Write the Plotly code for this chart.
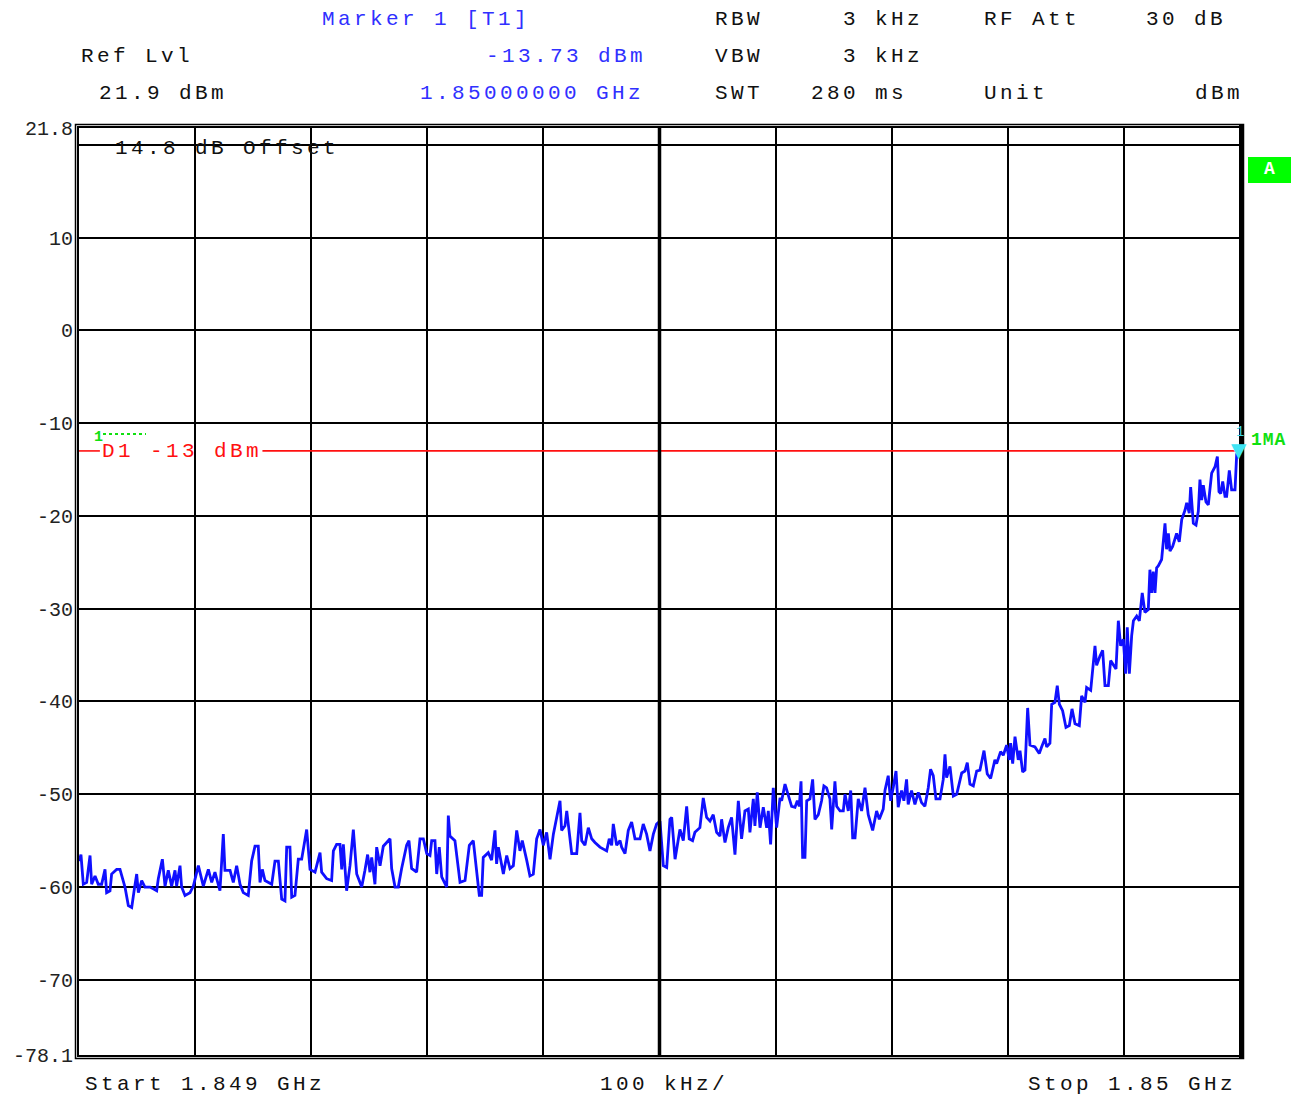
import plotly.graph_objects as go

# ---------------- data ----------------
freq_khz = [
    0, 1.7, 3.7, 6.6, 9.5, 10.9, 13.8, 16.6, 19.5, 22.4,
    23.8, 26.7, 28.1, 32.4, 35.3, 39.6, 42.5, 45.4, 47.7, 49.7,
    51.1, 54.0, 56.8, 61.2, 64.0, 66.9, 68.3, 71.8, 74.1, 76.9,
    79.8, 82.7, 84.1, 87.0, 88.4, 91.3, 95.6, 98.5, 102.8, 107.1,
    111.4, 114.3, 117.1, 121.4, 124.3, 125.7, 130.1, 132.9, 135.8, 138.7,
    141.5, 145.8, 148.7, 151.6, 154.4, 155.9, 157.9, 160.2, 166.0, 168.8,
    171.7, 174.6, 177.4, 178.9, 181.7, 183.2, 186.0, 187.5, 188.9, 191.8,
    196.1, 199.0, 203.3, 207.6, 209.0, 213.3, 217.6, 219.1, 221.9, 224.8,
    226.3, 227.7, 230.5, 233.4, 236.3, 239.2, 243.5, 246.3, 248.6, 250.6,
    252.1, 254.9, 256.4, 259.3, 262.1, 265.0, 267.9, 269.3, 272.2, 275.0,
    277.9, 282.2, 284.2, 286.5, 290.8, 293.7, 296.6, 299.5, 302.3, 303.8,
    306.6, 308.1, 310.3, 312.4, 316.7, 318.1, 319.5, 323.8, 328.2, 332.5,
    336.2, 339.6, 342.5, 344.8, 346.8, 348.2, 352.5, 355.4, 358.3, 359.7,
    361.2, 364.1, 365.5, 368.4, 371.2, 374.1, 377.0, 379.8, 381.8, 385.6,
    388.4, 391.3, 394.2, 397.1, 399.9, 402.8, 405.7, 408.6, 411.4, 414.3,
    415.7, 418.6, 420.1, 424.4, 428.7, 431.5, 433.0, 435.8, 438.7, 441.6,
    444.4, 448.7, 454.5, 456.7, 458.8, 460.2, 463.1, 466.0, 467.4, 470.3,
    473.1, 476.0, 478.9, 483.2, 486.0, 488.9, 491.8, 494.7, 497.5, 500.4,
    503.3, 506.2, 509.0, 510.5, 513.4, 517.6, 520.5, 523.4, 525.6, 528.5,
    530.5, 534.8, 537.7, 540.6, 543.5, 546.3, 549.2, 552.1, 553.5, 556.4,
    559.2, 562.1, 565.0, 567.9, 570.7, 573.6, 576.5, 577.9, 580.8, 582.2,
    584.2, 586.6, 589.4, 592.3, 593.7, 595.7, 598.0, 600.9, 603.8, 605.2,
    608.1, 610.9, 613.8, 616.7, 618.7, 620.4, 621.9, 623.3, 625.3, 626.8,
    629.6, 631.9, 633.9, 636.8, 639.6, 641.6, 643.9, 646.8, 648.3, 651.1,
    652.6, 655.5, 658.3, 659.8, 662.6, 664.7, 666.4, 668.4, 671.2, 674.1,
    677.0, 679.8, 683.6, 687.0, 689.3, 692.7, 694.2, 697.0, 699.1, 701.3,
    703.7, 705.6, 708.5, 710.5, 712.8, 714.2, 717.1, 720.0, 722.9, 725.7,
    728.6, 731.5, 733.5, 735.8, 738.1, 741.6, 744.4, 745.9, 747.3, 750.2,
    753.1, 756.0, 760.3, 763.1, 765.1, 767.4, 770.3, 773.2, 776.0, 779.5,
    782.3, 785.2, 788.9, 790.4, 793.8, 796.1, 799.0, 801.3, 802.4, 804.2,
    806.2, 809.0, 810.5, 812.8, 814.8, 817.1, 819.1, 823.4, 827.1, 829.1,
    832.0, 833.5, 836.3, 837.8, 840.6, 842.6, 844.4, 847.2, 850.1, 853.0,
    855.3, 857.9, 861.6, 863.6, 866.5, 867.9, 871.4, 875.1, 876.5, 879.4,
    881.7, 883.7, 886.6, 888.6, 890.9, 893.2, 895.2, 897.2, 899.5, 901.5,
    902.9, 904.7, 906.7, 908.2, 911.0, 913.3, 915.8, 918.1, 921.0, 922.4,
    923.9, 925.3, 926.8, 928.2, 929.6, 932.5, 935.4, 936.8, 938.3, 939.7,
    942.0, 944.0, 945.4, 947.7, 949.8, 952.6, 954.1, 956.3, 957.5, 959.8,
    962.1, 964.1, 965.5, 967.0, 968.4, 970.7, 972.7, 975.6, 978.5, 980.5,
    981.9, 983.4, 985.1, 987.1, 988.5, 990.8, 992.8, 995.7, 997.1, 1000.0,
]

level_dbm = [
    -57.2, -56.5, -59.7, -59.5, -56.6, -59.7, -58.8, -59.7, -59.7, -58.1,
    -60.6, -60.4, -58.6, -58.1, -58.1, -60.0, -62.0, -62.2, -60.2, -58.6,
    -60.6, -59.3, -60.0, -60.0, -60.2, -60.4, -59.1, -57.0, -59.9, -58.2,
    -59.9, -58.2, -59.9, -57.7, -60.0, -60.9, -60.6, -59.9, -57.7, -59.9,
    -58.1, -59.5, -58.4, -60.4, -54.3, -58.2, -58.2, -59.5, -57.7, -59.7,
    -60.6, -60.9, -57.2, -55.6, -55.6, -59.5, -58.1, -59.3, -59.7, -57.2,
    -57.2, -61.3, -61.5, -55.7, -55.7, -61.1, -60.9, -58.8, -57.0, -57.0,
    -53.8, -58.1, -58.4, -56.3, -58.4, -59.1, -59.3, -56.1, -55.4, -55.4,
    -58.1, -55.4, -60.4, -57.7, -53.8, -58.6, -60.0, -58.2, -56.5, -58.4,
    -56.8, -59.7, -55.7, -57.7, -55.6, -55.2, -54.8, -58.0, -60.0, -60.0,
    -58.0, -55.5, -55.0, -58.0, -58.4, -54.8, -54.8, -56.4, -56.6, -55.0,
    -55.0, -58.6, -55.7, -58.9, -60.0, -52.3, -54.5, -55.0, -59.5, -59.3,
    -55.5, -55.0, -58.0, -60.9, -60.9, -56.8, -56.3, -57.1, -53.9, -57.5,
    -55.7, -58.0, -58.6, -56.6, -58.0, -57.7, -53.9, -56.1, -55.0, -57.1,
    -58.8, -58.6, -54.8, -53.8, -55.5, -54.1, -57.0, -54.3, -52.7, -50.7,
    -53.9, -53.4, -51.8, -56.4, -56.4, -52.0, -55.0, -55.5, -53.6, -54.8,
    -55.2, -55.7, -56.1, -54.8, -55.5, -53.2, -55.5, -55.0, -55.7, -56.4,
    -53.9, -53.0, -54.8, -54.8, -53.2, -54.3, -56.1, -54.3, -53.2, -52.9,
    -57.7, -57.9, -52.7, -52.5, -57.0, -53.8, -55.0, -51.3, -54.8, -55.0,
    -54.1, -53.6, -50.4, -52.5, -52.9, -52.2, -54.1, -54.5, -52.7, -55.2,
    -53.6, -52.5, -56.5, -50.7, -54.8, -51.8, -51.6, -54.1, -50.5, -53.4,
    -49.8, -53.6, -51.4, -53.6, -51.8, -55.4, -49.3, -53.6, -50.4, -50.7,
    -48.9, -50.2, -51.3, -51.4, -50.7, -51.3, -48.6, -56.8, -56.8, -50.7,
    -50.5, -48.4, -52.7, -52.2, -50.7, -49.1, -49.3, -50.5, -53.8, -48.6,
    -51.3, -51.8, -51.8, -50.0, -51.8, -49.6, -54.7, -54.7, -50.5, -51.8,
    -49.3, -52.2, -53.9, -51.8, -52.7, -51.6, -49.6, -48.0, -50.7, -49.3,
    -47.5, -51.4, -49.6, -50.7, -48.4, -51.1, -49.6, -51.1, -49.8, -50.9,
    -51.3, -49.3, -47.3, -48.0, -50.5, -50.5, -48.4, -45.7, -48.2, -47.0,
    -50.2, -50.0, -47.7, -47.5, -46.6, -48.9, -49.1, -47.5, -47.4, -45.3,
    -47.8, -48.3, -46.3, -46.7, -45.4, -45.8, -44.7, -46.3, -44.5, -46.7,
    -43.8, -46.3, -45.3, -47.6, -47.4, -40.7, -44.7, -44.9, -45.6, -44.9,
    -44.0, -44.9, -44.5, -40.3, -40.1, -38.3, -40.3, -41.0, -42.8, -42.6,
    -40.8, -42.4, -42.6, -39.4, -40.1, -38.5, -38.8, -34.0, -36.1, -35.1,
    -34.5, -38.3, -38.3, -35.6, -36.1, -36.5, -31.3, -34.0, -33.3, -37.0,
    -32.0, -37.0, -32.9, -31.3, -30.8, -31.3, -28.3, -30.4, -30.1, -25.8,
    -28.3, -26.0, -28.3, -25.6, -25.4, -24.7, -20.8, -23.6, -21.9, -23.8,
    -23.3, -22.6, -21.9, -22.8, -20.4, -19.4, -18.6, -19.7, -16.9, -20.8,
    -21.0, -19.5, -16.1, -18.3, -16.7, -18.5, -18.8, -15.4, -14.7, -13.6,
    -17.4, -17.6, -16.3, -17.9, -17.9, -15.1, -17.2, -17.2, -13.5, -13.73,
]

display_line_dbm = -13          # D1
marker_freq_khz = 1000.0        # Marker 1 [T1]
marker_level_dbm = -13.73

y_min, y_max = -78.1, 21.8
x_span_khz = [0, 1000]
y_tickvals = [21.8, 20, 10, 0, -10, -20, -30, -40, -50, -60, -70, -78.1]
y_ticktext = ["21.8", "", "10", "0", "-10", "-20", "-30", "-40", "-50", "-60", "-70", "-78.1"]

# ---------------- layout helpers ----------------
W, H = 1305, 1097
L, R, T, B = 79, 1240, 128, 1055


def px(xp):
    return (xp - L) / (R - L)


def py(yp):
    return (B - yp) / (B - T)


MONO = "Liberation Mono, Courier New, monospace"
BLUE_TXT = "#3030ff"
BLACK = "#111111"


def sp(t, ls=3.4):
    return f'<span style="letter-spacing:{ls}px">{t}</span>'


fig = go.Figure()
fig.add_trace(go.Scatter(
    x=freq_khz, y=level_dbm, mode="lines",
    line=dict(color="#1010ff", width=2.8),
    hoverinfo="skip", showlegend=False,
))

annotations = []


def txt(t, xp, yp, anchor="left", color=BLACK, size=21, ls=3.4, bold=False):
    if anchor == "right":
        xp = xp + ls
    s = sp(t, ls)
    if bold:
        s = "<b>" + s + "</b>"
    annotations.append(dict(
        text=s, x=px(xp), y=py(yp), xref="paper", yref="paper",
        xanchor=anchor, yanchor="middle", showarrow=False,
        font=dict(family=MONO, size=size, color=color),
    ))


# header
txt("Marker 1 [T1]", 320, 19, "left", BLUE_TXT)
txt("RBW", 713, 19)
txt("3 kHz", 922, 19, "right")
txt("RF Att", 982, 19)
txt("30 dB", 1225, 19, "right")
txt("Ref Lvl", 79, 56)
txt("-13.73 dBm", 645, 56, "right", BLUE_TXT)
txt("VBW", 713, 56)
txt("3 kHz", 922, 56, "right")
txt("21.9 dBm", 97, 93)
txt("1.85000000 GHz", 643, 93, "right", BLUE_TXT)
txt("SWT", 713, 93)
txt("280 ms", 906, 93, "right")
txt("Unit", 982, 93)
txt("dBm", 1242, 93, "right")
# bottom
txt("Start 1.849 GHz", 83, 1084)
txt("100 kHz/", 598, 1084)
txt("Stop 1.85 GHz", 1235, 1084, "right")
# in plot
txt("14.8 dB Offset", 113, 148)
txt("D1 -13 dBm", 100, 452, "left", "#ff1010")
txt("1", 92, 437, "left", "#10e010", size=15, ls=0, bold=True)
txt("1MA", 1249, 440, "left", "#10e010", size=18, ls=1, bold=True)
txt("A", 1269, 169, "center", "#ffffff", size=18, ls=0, bold=True)
txt("1", 1240, 432, "center", "#40d8e8", size=14, ls=0)

# marker triangle at the marker point
annotations.append(dict(
    text="▼", x=marker_freq_khz, y=marker_level_dbm, xref="x", yref="y",
    xanchor="center", yanchor="bottom", showarrow=False, yshift=-6, xshift=-1,
    font=dict(family="DejaVu Sans", size=20, color="#40e4f4"),
))

shapes = []
# display line D1 (interrupted by its label)
shapes.append(dict(type="line", xref="x", yref="y",
                   x0=x_span_khz[0], x1=18, y0=display_line_dbm, y1=display_line_dbm,
                   line=dict(color="#ff1010", width=1.6)))
shapes.append(dict(type="line", xref="x", yref="y",
                   x0=158, x1=x_span_khz[1], y0=display_line_dbm, y1=display_line_dbm,
                   line=dict(color="#ff1010", width=1.6)))
# green dotted marker-info line
shapes.append(dict(type="line", xref="paper", yref="paper",
                   x0=px(103), x1=px(146), y0=py(434), y1=py(434),
                   line=dict(color="#10e010", width=2, dash="dot")))
# center line thicker
shapes.append(dict(type="line", xref="x", yref="paper",
                   x0=500, x1=500, y0=0, y1=1,
                   line=dict(color="black", width=3.5)))
# outer frame (double border)
dx, dy = 3.5 / (R - L), 3.5 / (B - T)
shapes.append(dict(type="rect", xref="paper", yref="paper",
                   x0=-dx, x1=1 + dx, y0=-dy, y1=1 + dy,
                   line=dict(color="black", width=1.5)))
# thick right edge
shapes.append(dict(type="line", xref="paper", yref="paper",
                   x0=1 + 1 / (R - L), x1=1 + 1 / (R - L), y0=-dy, y1=1 + dy,
                   line=dict(color="black", width=4)))
# green "A" box
shapes.append(dict(type="rect", xref="paper", yref="paper",
                   x0=px(1248), x1=px(1291), y0=py(183), y1=py(157),
                   fillcolor="#00ff00", line=dict(width=0), layer="below"))

fig.update_layout(
    width=W, height=H,
    margin=dict(l=L, r=W - R, t=T, b=H - B, pad=0),
    paper_bgcolor="white", plot_bgcolor="white",
    showlegend=False,
    font=dict(family=MONO, color=BLACK),
    annotations=annotations,
    shapes=shapes,
    xaxis=dict(
        range=x_span_khz, tick0=0, dtick=100, showticklabels=False,
        showgrid=True, gridcolor="black", gridwidth=1.6, zeroline=False,
        showline=True, mirror=True, linecolor="black", linewidth=2, ticks="",
    ),
    yaxis=dict(
        range=[y_min, y_max], tickmode="array", tickvals=y_tickvals, ticktext=y_ticktext,
        showgrid=True, gridcolor="black", gridwidth=1.6, zeroline=False,
        showline=True, mirror=True, linecolor="black", linewidth=2, ticks="",
        tickfont=dict(family=MONO, size=20, color="#222222"),
    ),
)

fig.write_html("out.html", config={"displayModeBar": False},
               post_script="document.body.style.margin='0';")
